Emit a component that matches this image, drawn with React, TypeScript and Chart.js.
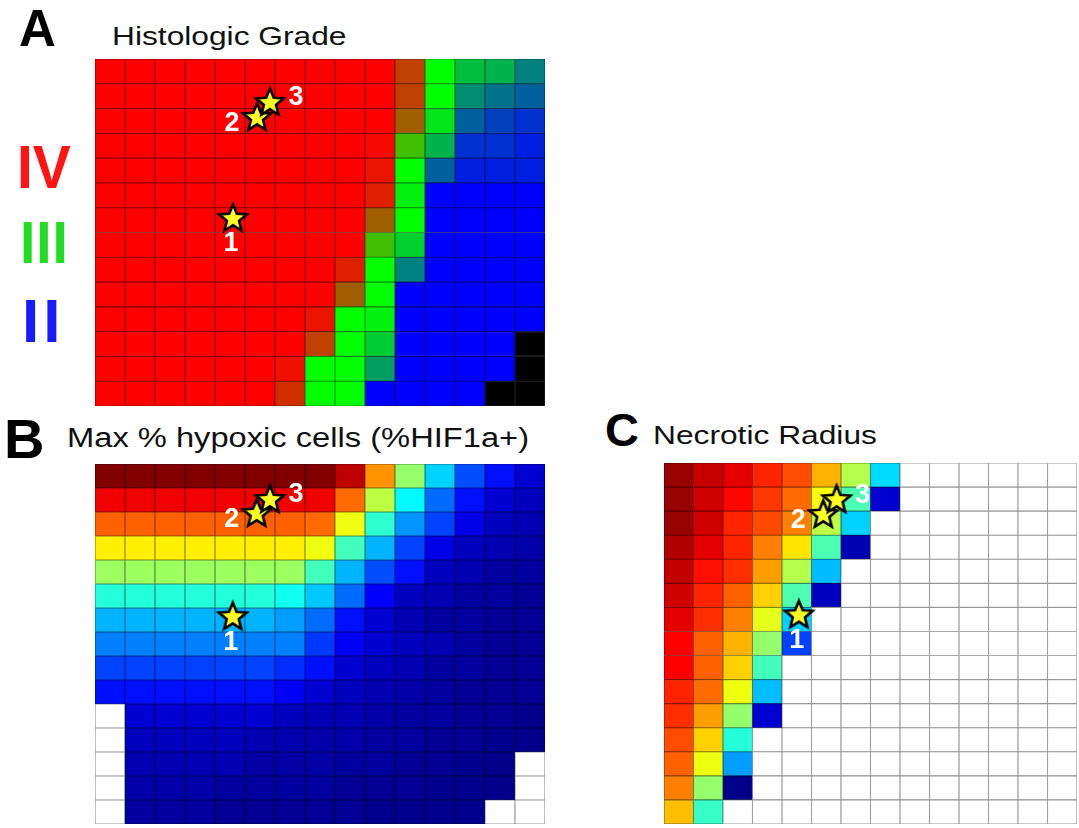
import React, { useEffect, useRef } from "react";
import { Chart, registerables } from "chart.js";

Chart.register(...registerables);

// ---------- DATA ----------
// Panel A: histologic grade per cell (4 = IV, 3 = III, 2 = II, 0 = none), rows top -> bottom
const gradeRows: number[][] = [
  [4, 4, 4, 4, 4, 4, 4, 4, 4, 4, 3.75, 3, 2.75, 2.7, 2.5],
  [4, 4, 4, 4, 4, 4, 4, 4, 4, 4, 3.75, 3, 2.55, 2.45, 2.38],
  [4, 4, 4, 4, 4, 4, 4, 4, 4, 4, 3.63, 2.9, 2.38, 2.25, 2.19],
  [4, 4, 4, 4, 4, 4, 4, 4, 4, 3.97, 3.25, 2.7, 2.19, 2.19, 2.12],
  [4, 4, 4, 4, 4, 4, 4, 4, 4, 3.92, 3, 2.38, 2.12, 2.12, 2.12],
  [4, 4, 4, 4, 4, 4, 4, 4, 4, 3.88, 2.95, 2, 2, 2, 2],
  [4, 4, 4, 4, 4, 4, 4, 4, 4, 3.63, 3, 2, 2, 2, 2],
  [4, 4, 4, 4, 4, 4, 4, 4, 4, 3.25, 2.82, 2, 2, 2, 2],
  [4, 4, 4, 4, 4, 4, 4, 4, 3.88, 3, 2.5, 2, 2, 2, 2],
  [4, 4, 4, 4, 4, 4, 4, 4, 3.63, 3, 2, 2, 2, 2, 2],
  [4, 4, 4, 4, 4, 4, 4, 3.92, 3, 2.95, 2, 2, 2, 2, 2],
  [4, 4, 4, 4, 4, 4, 4, 3.75, 3, 2.8, 2, 2, 2, 2, 0],
  [4, 4, 4, 4, 4, 4, 3.94, 3, 3, 2.62, 2, 2, 2, 2, 0],
  [4, 4, 4, 4, 4, 4, 3.82, 3, 3, 2, 2, 2, 2, 0, 0],
];

// Panel B: max % hypoxic cells (%HIF1a+), rows top -> bottom, null = no value
const hypoxiaRows: (number | null)[][] = [
  [100, 100, 100, 100, 100, 100, 100, 100, 94, 73, 52, 33, 20, 14, 8],
  [89, 89, 89, 89, 89, 89, 89, 89, 77, 56, 37, 23, 14, 8, 6],
  [78, 78, 78, 78, 78, 78, 78, 77, 61, 42, 27, 19, 10, 6, 5],
  [64, 64, 64, 64, 64, 64, 64, 61, 44, 30, 19, 10, 6, 5, 4],
  [53, 53, 53, 53, 53, 53, 53, 44, 30, 20, 14, 6, 5, 3, 3],
  [41, 41, 41, 41, 41, 41, 39, 32, 23, 12.5, 6, 5, 3, 3, 2],
  [30, 30, 30, 30, 30, 30, 28, 23, 14, 8, 5, 3, 3, 2, 2],
  [25, 25, 25, 25, 25, 25, 25, 18, 12, 8, 6, 5, 3, 2, 2],
  [19, 19, 19, 19, 19, 19, 17, 14, 8, 6, 5, 3, 3, 2, 2],
  [14, 14, 14, 14, 14, 14, 12, 8, 6, 5, 4, 3, 2, 2, 2],
  [null, 8, 8, 8, 8, 8, 6, 5, 5, 4, 3, 3, 2, 2, 1],
  [null, 6, 6, 6, 6, 5, 4.5, 4, 4, 3, 3, 2, 2, 1.5, 1],
  [null, 5, 5, 5, 5, 3.5, 3.5, 3.5, 3, 3, 2, 2, 1.5, 1, null],
  [null, 4, 4, 4, 3, 3, 3, 3, 2, 2, 2, 1.5, 1.5, 1, null],
  [null, 3, 3, 3, 2, 2, 2, 2, 2, 1.5, 1.5, 1.5, 1.5, null, null],
];

// Panel C: necrotic radius (relative, %), rows top -> bottom, null = no value
const N = null;
const necroticRows: (number | null)[][] = [
  [97.5, 93, 90, 84, 80, 70, 55, 34, N, N, N, N, N, N],
  [97.5, 92, 87, 82, 77, 62, 45, 8, N, N, N, N, N, N],
  [97.5, 92, 84, 80, 75, 56, 33, N, N, N, N, N, N, N],
  [95, 90, 84, 75, 65, 45, 5, N, N, N, N, N, N, N],
  [93.5, 86, 83, 72, 55, 31, N, N, N, N, N, N, N, N],
  [92, 84, 78, 67, 45, 6, N, N, N, N, N, N, N, N],
  [90, 83, 75, 60, 33, N, N, N, N, N, N, N, N, N],
  [87.5, 78, 70, 52, 19, N, N, N, N, N, N, N, N, N],
  [87.5, 78, 67, 44, N, N, N, N, N, N, N, N, N, N],
  [84, 77, 61, 31, N, N, N, N, N, N, N, N, N, N],
  [83, 72, 52, 8, N, N, N, N, N, N, N, N, N, N],
  [80, 67, 41, N, N, N, N, N, N, N, N, N, N, N],
  [78, 61, 28, N, N, N, N, N, N, N, N, N, N, N],
  [75, 52, 1, N, N, N, N, N, N, N, N, N, N, N],
  [69, 43, N, N, N, N, N, N, N, N, N, N, N, N],
];

// Star markers (column units from left, row units from top), labelled 1, 2, 3
const starLabels = ["1", "2", "3"];
const gradeStarX = [4.6, 5.4, 5.83];
const gradeStarY = [6.45, 2.38, 1.77];
const hypoxiaStarX = [4.59, 5.39, 5.83];
const hypoxiaStarY = [6.38, 2.08, 1.5];
const necroticStarX = [4.57, 5.4, 5.85];
const necroticStarY = [6.33, 2.16, 1.54];

// ---------- COLOUR MAPS ----------
const clamp = (v: number) => Math.max(0, Math.min(1, v));
function rgb(r: number, g: number, b: number) {
  return `rgb(${Math.round(r * 255)},${Math.round(g * 255)},${Math.round(b * 255)})`;
}
function jetColor(v: number, f = 1) {
  const t = v / 100;
  return rgb(
    clamp(1.5 - Math.abs(4 * t - 3)) * f,
    clamp(1.5 - Math.abs(4 * t - 2)) * f,
    clamp(1.5 - Math.abs(4 * t - 1)) * f
  );
}
function gradeColor(v: number, f = 1) {
  if (v <= 0) return f === 1 ? "#000000" : "#222222";
  if (v >= 3) return rgb((v - 3) * f, (4 - v) * f, 0);
  return rgb(0, (v - 2) * f, (3 - v) * f);
}

const FONT = '"Liberation Sans", Arial, Helvetica, sans-serif';
const labelOffsets: Record<string, [number, number]> = {
  "1": [-2, 25],
  "2": [-25, 6],
  "3": [26, -5],
};

const starLabelPlugin = {
  id: "starLabels",
  afterDatasetsDraw(chart: any) {
    const idx = chart.data.datasets.findIndex((d: any) => d.type === "scatter");
    if (idx < 0) return;
    const meta = chart.getDatasetMeta(idx);
    const ctx = chart.ctx;
    ctx.save();
    ctx.font = `bold 27px ${FONT}`;
    ctx.fillStyle = "#ffffff";
    ctx.textAlign = "center";
    ctx.textBaseline = "middle";
    meta.data.forEach((pt: any, i: number) => {
      const lab = starLabels[i];
      const off = labelOffsets[lab];
      ctx.fillText(lab, pt.x + off[0], pt.y + off[1]);
    });
    ctx.restore();
  },
};

function makeStar(): HTMLCanvasElement {
  const c = document.createElement("canvas");
  c.width = 40;
  c.height = 40;
  const g = c.getContext("2d")!;
  g.beginPath();
  for (let i = 0; i < 10; i++) {
    const r = i % 2 === 0 ? 14.5 : 6.4;
    const a = -Math.PI / 2 + (i * Math.PI) / 5;
    const x = 20 + r * Math.cos(a);
    const y = 20 + r * Math.sin(a);
    if (i === 0) g.moveTo(x, y);
    else g.lineTo(x, y);
  }
  g.closePath();
  g.fillStyle = "#ffff22";
  g.fill();
  g.lineWidth = 2.6;
  g.strokeStyle = "#000000";
  g.lineJoin = "miter";
  g.stroke();
  return c;
}

const PAD = 3;

type HeatProps = {
  left: number;
  top: number;
  width: number;
  height: number;
  rows: (number | null)[][];
  colorFn: (v: number, f?: number) => string;
  starX: number[];
  starY: number[];
};

function Heatmap({ left, top, width, height, rows, colorFn, starX, starY }: HeatProps) {
  const ref = useRef<HTMLCanvasElement>(null);
  useEffect(() => {
    const nRows = rows.length;
    const nCols = rows[0].length;
    const cellW = width / nCols;
    const datasets: any[] = rows
      .slice()
      .reverse()
      .map((row, ri) => ({
        type: "bar",
        label: "row" + ri,
        data: row.map((_, c) => ({ x: c + 0.5, y: 1 })),
        backgroundColor: row.map((v) => (v == null ? "#ffffff" : colorFn(v))),
        borderColor: row.map((v) => (v == null ? "#959595" : colorFn(v, 0.55))),
        borderWidth: 0.9,
        borderSkipped: false,
        barThickness: cellW,
        xAxisID: "x",
        yAxisID: "y",
        stack: "cells",
        order: 2,
      }));
    datasets.push({
      type: "scatter",
      label: "stars",
      data: starX.map((x, i) => ({ x, y: starY[i] })),
      pointStyle: makeStar(),
      pointRadius: 14,
      xAxisID: "x",
      yAxisID: "y2",
      order: 0,
    });
    const chart = new Chart(ref.current!, {
      type: "bar",
      data: { datasets },
      options: {
        animation: false,
        responsive: false,
        events: [],
        layout: { padding: PAD, autoPadding: false },
        plugins: { legend: { display: false }, tooltip: { enabled: false } },
        scales: {
          x: { type: "linear", display: false, stacked: true, min: 0, max: nCols, offset: false },
          y: { type: "linear", display: false, stacked: true, min: 0, max: nRows },
          y2: { type: "linear", display: false, min: 0, max: nRows, reverse: true },
        },
      } as any,
      plugins: [starLabelPlugin],
    });
    return () => chart.destroy();
  }, []);
  return (
    <canvas
      ref={ref}
      width={width + 2 * PAD}
      height={height + 2 * PAD}
      style={{
        position: "absolute",
        left: left - PAD,
        top: top - PAD,
        width: width + 2 * PAD,
        height: height + 2 * PAD,
      }}
    />
  );
}

function Txt({
  text,
  left,
  baseline,
  size,
  bold,
  color,
  sx,
  ls,
}: {
  text: string;
  left: number;
  baseline: number;
  size: number;
  bold?: boolean;
  color?: string;
  sx?: number;
  ls?: number;
}) {
  return (
    <div
      style={{
        position: "absolute",
        left,
        top: baseline - size * 0.8465,
        fontSize: size,
        lineHeight: `${size}px`,
        fontFamily: FONT,
        fontWeight: bold ? 700 : 400,
        color: color || "#111111",
        whiteSpace: "nowrap",
        letterSpacing: ls ?? 0,
        transform: `scaleX(${sx ?? 1})`,
        transformOrigin: "left top",
      }}
    >
      {text}
    </div>
  );
}

export default function App() {
  return (
    <div
      style={{
        position: "fixed",
        left: 0,
        top: 0,
        width: 1079,
        height: 828,
        background: "#ffffff",
        overflow: "hidden",
      }}
    >
      <Txt text="A" left={19} baseline={46} size={51} bold sx={1} color="#000" />
      <Txt text="Histologic Grade" left={112} baseline={45} size={26} sx={1.22} />
      <Txt text="IV" left={17} baseline={188} size={62} bold sx={0.92} color="#ff1414" />
      <Txt text="III" left={20} baseline={264} size={60} bold sx={0.92} ls={1} color="#22dd22" />
      <Txt text="II" left={22} baseline={342} size={62} bold sx={1} ls={4} color="#1a1aff" />
      <Txt text="B" left={4} baseline={458} size={56} bold sx={1} color="#000" />
      <Txt text="Max % hypoxic cells (%HIF1a+)" left={67} baseline={448} size={27} sx={1.21} />
      <Txt text="C" left={605} baseline={446} size={47} bold sx={1} color="#000" />
      <Txt text="Necrotic Radius" left={653} baseline={444} size={26} sx={1.22} />

      <Heatmap
        left={95}
        top={59}
        width={450}
        height={347}
        rows={gradeRows}
        colorFn={gradeColor}
        starX={gradeStarX}
        starY={gradeStarY}
      />
      <Heatmap
        left={95}
        top={464}
        width={450}
        height={360}
        rows={hypoxiaRows}
        colorFn={jetColor}
        starX={hypoxiaStarX}
        starY={hypoxiaStarY}
      />
      <Heatmap
        left={664}
        top={463}
        width={413}
        height={361}
        rows={necroticRows}
        colorFn={jetColor}
        starX={necroticStarX}
        starY={necroticStarY}
      />
    </div>
  );
}
